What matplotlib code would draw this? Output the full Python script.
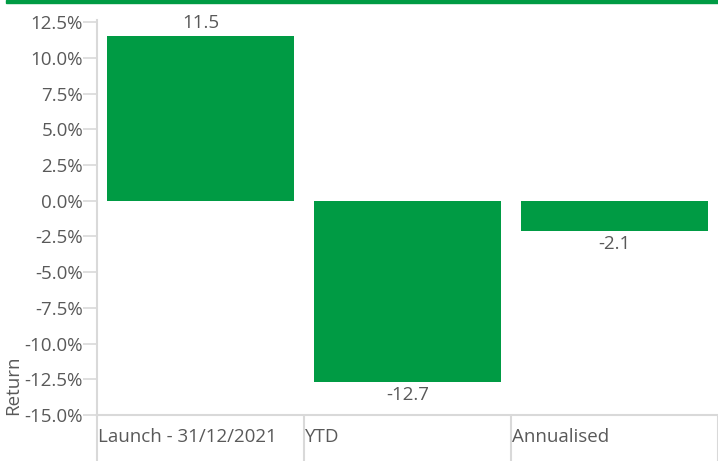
import matplotlib.pyplot as plt
from matplotlib.patches import Rectangle
from matplotlib.ticker import FuncFormatter
import matplotlib.transforms as mtransforms

categories = ["Launch - 31/12/2021", "YTD", "Annualised"]
returns = [11.5, -12.7, -2.1]
yticks = [12.5, 10.0, 7.5, 5.0, 2.5, 0.0, -2.5, -5.0, -7.5, -10.0, -12.5, -15.0]

green = "#009B44"
grey_txt = "#595959"
grey_line = "#d9d9d9"

plt.rcParams["font.family"] = ["Open Sans", "DejaVu Sans"]

fig = plt.figure(figsize=(7.18, 4.61), dpi=100)
W, H = 718, 461
ax = fig.add_axes([97 / W, 1 - 415 / H, 1 - 97 / W, (415 - 20) / H])

# green strip across the top
fig.patches.append(Rectangle((6 / W, 1 - 3.5 / H), 1, 3.5 / H,
                             transform=fig.transFigure, color=green, zorder=5))

x = list(range(len(categories)))
bars = ax.bar(x, returns, width=0.9, color=green, zorder=2)
ax.set_xlim(-0.5, len(categories) - 0.5)
ax.set_ylim(-15, 12.65)

for xi, v in zip(x, returns):
    if v >= 0:
        ax.annotate(f"{v}", (xi, v), xytext=(0, 3), textcoords="offset points",
                    ha="center", va="bottom", fontsize=13.5, color=grey_txt)
    else:
        ax.annotate(f"{v}", (xi, v), xytext=(0, -3), textcoords="offset points",
                    ha="center", va="top", fontsize=13.5, color=grey_txt)

ax.set_yticks(yticks)
ax.yaxis.set_major_formatter(FuncFormatter(lambda v, p: f"{v:.1f}%"))
ax.tick_params(axis="y", colors=grey_line, labelcolor=grey_txt, labelsize=13.5,
               length=10, width=1.2, pad=0)

# category separators hanging below the axis
sep = [i - 0.5 for i in range(len(categories) + 1)]
ax.set_xticks(sep)
ax.set_xticklabels([])
ax.tick_params(axis="x", colors=grey_line, length=34, width=1.5)

trans = mtransforms.blended_transform_factory(ax.transData, fig.transFigure)
for xi, name in zip(x, categories):
    ax.text(xi - 0.5 + 0.006, 1 - 437 / H, name, transform=trans, ha="left",
            va="center", fontsize=13.5, color=grey_txt, clip_on=False)

for s in ["top", "right"]:
    ax.spines[s].set_visible(False)
for s in ["left", "bottom"]:
    ax.spines[s].set_color(grey_line)
    ax.spines[s].set_linewidth(1.5)

ax.set_ylabel("Return", loc="bottom", fontsize=13.5, color=grey_txt, labelpad=2)

fig.savefig("out.png", dpi=100)
